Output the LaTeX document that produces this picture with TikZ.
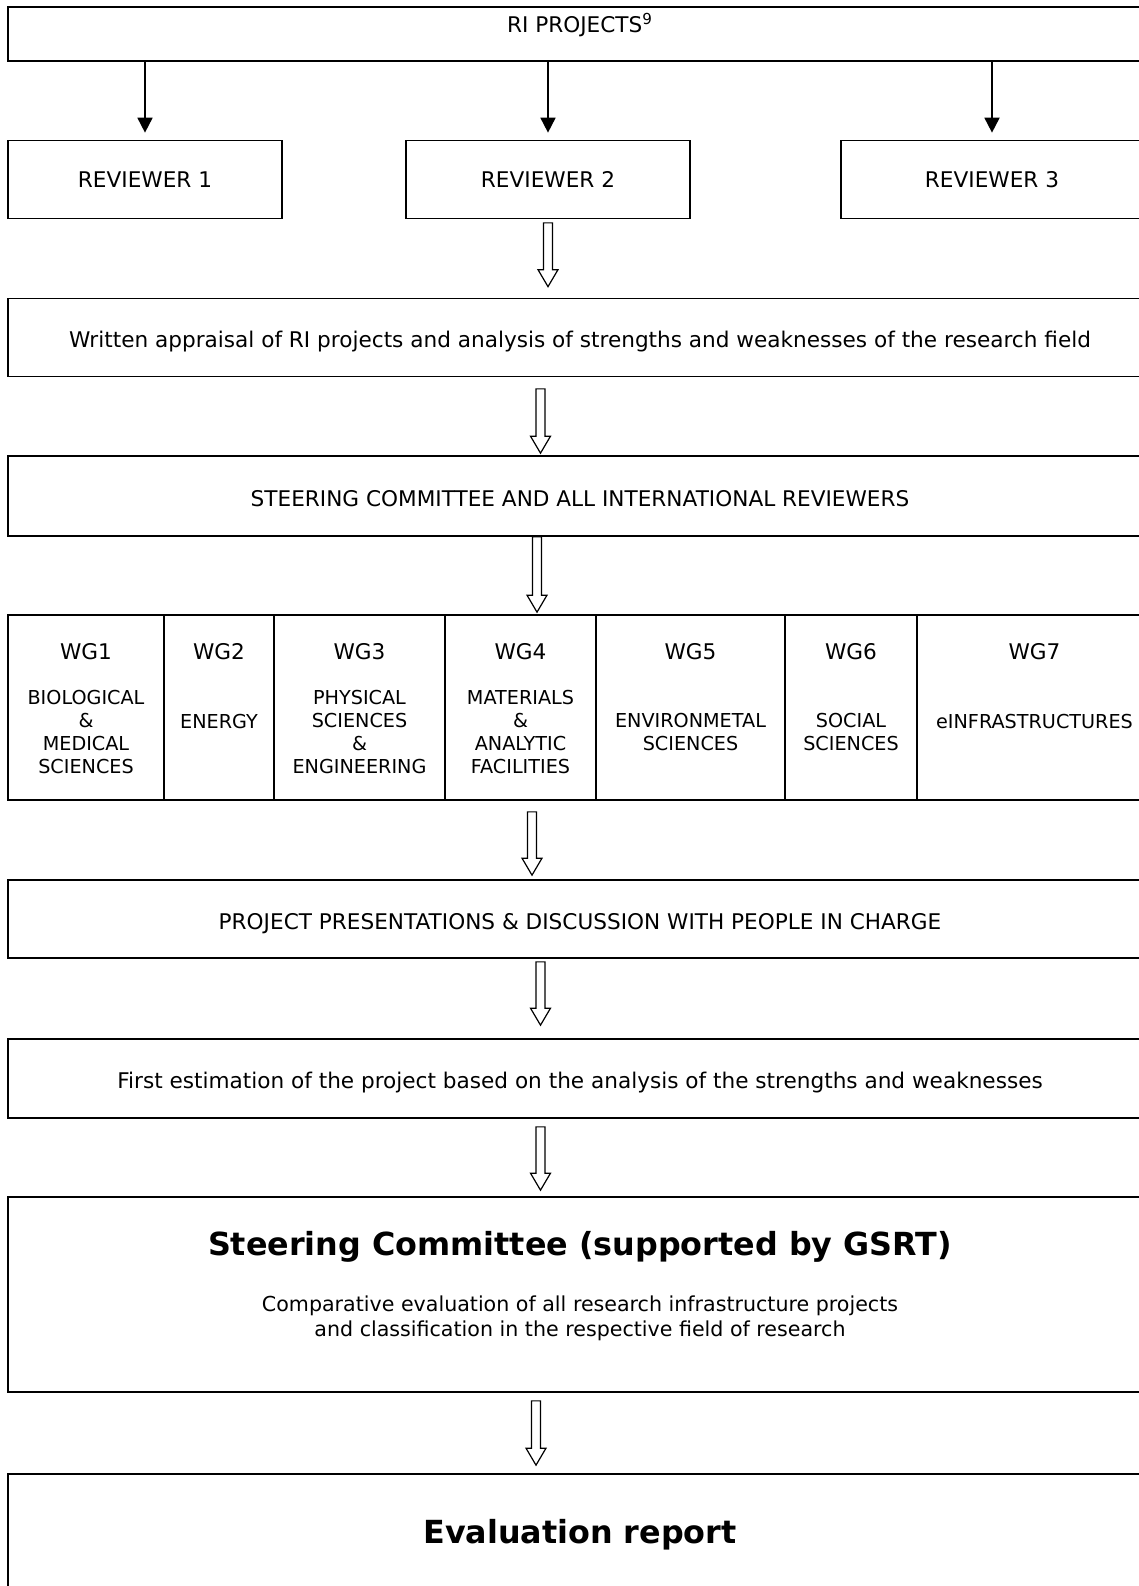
\documentclass[tikz,border=0pt]{standalone}
\usepackage{fontspec}
\setmainfont{DejaVu Sans}
\usetikzlibrary{positioning,calc,arrows.meta}

\newcommand\txt{\fontsize{10.8}{11.4}\selectfont}
\newcommand\wgtxt{\fontsize{9.6}{11.4}\selectfont}
\newcommand\sctxt{\fontsize{10.3}{12.7}\selectfont}
\newcommand\ttl{\fontsize{15.9}{19}\selectfont\bfseries}

\begin{document}
\begin{tikzpicture}[x=0.5pt,y=-0.5pt,font=\txt,
  box/.style={
    draw,
    line width=0.85pt,
    inner sep=0pt,
    align=center,
    minimum height=39pt
  },
  wide/.style={box, minimum width=572pt, text height=10pt, text depth=0pt},
  arr/.style={line width=0.9pt, -{Triangle[width=7.5pt,length=7.5pt]}},
  hollow/.style={line width=0.6pt,
    to path={let \p1=(\tikztostart), \p2=(\tikztotarget) in
      (\x1-2.25pt,\y1) -- (\x1-2.25pt,\y2+8.5pt) -- (\x1-5pt,\y2+8.5pt) -- (\x1,\y2)
      -- (\x1+5pt,\y2+8.5pt) -- (\x1+2.25pt,\y2+8.5pt) -- (\x1+2.25pt,\y1) -- cycle}
  }]
  \useasboundingbox (0,0) rectangle (1139,1586);

  % projects and reviewers
  \node[wide, minimum height=27pt,
        label={[anchor=north, inner sep=0pt, yshift=-3.5pt]north:RI PROJECTS\textsuperscript{9}}]
        (ri) at (580,34) {};
  \node[box, minimum width=137pt] (r1) at (145,179.5) {REVIEWER 1};
  \node[box, minimum width=142pt] (r2) at (548,179.5) {REVIEWER 2};
  \node[box, minimum width=151pt] (r3) at (992,179.5) {REVIEWER 3};

  \draw[arr] (ri.south -| r1) -- ([yshift=3.5pt]r1.north);
  \draw[arr] (ri.south -| r2) -- ([yshift=3.5pt]r2.north);
  \draw[arr] (ri.south -| r3) -- ([yshift=3.5pt]r3.north);

  \node[wide] (appr) at (580,337.5)
    {Written appraisal of RI projects and analysis of strengths and weaknesses of the research field};
  \node[wide, minimum height=40pt] (steer) at (580,496)
    {STEERING COMMITTEE AND ALL INTERNATIONAL REVIEWERS};

  % working groups
  \foreach \i/\xa/\xb/\dy/\what in {
      1/8/164/732/{BIOLOGICAL\\\&\\MEDICAL\\SCIENCES},
      2/164/274/721/ENERGY,
      3/274/445/732/{PHYSICAL\\SCIENCES\\\&\\ENGINEERING},
      4/445/596/732/{MATERIALS\\\&\\ANALYTIC\\FACILITIES},
      5/596/785/732/{ENVIRONMETAL\\SCIENCES},
      6/785/917/732/{SOCIAL\\SCIENCES},
      7/917/1152/721/eINFRASTRUCTURES}
  {
    \node[box, minimum width={(\xb-\xa)*0.5pt}, minimum height=92.5pt]
      (wg\i) at ({(\xa+\xb)/2},707.5) {};
    \node (wgt\i) at ({(\xa+\xb)/2},652) {WG\i};
    \node[align=center, font=\wgtxt] (wgd\i) at ({(\xa+\xb)/2},\dy) {\what};
  }

  \node[wide] (proj) at (580,919)
    {PROJECT PRESENTATIONS \& DISCUSSION WITH PEOPLE IN CHARGE};
  \node[wide, minimum height=39.5pt] (first) at (580,1078.5)
    {First estimation of the project based on the analysis of the strengths and weaknesses};

  \node[wide, minimum height=97.5pt] (sc) at (580,1294.5) {};
  \node[font=\ttl] (sctitle) at (580,1247) {Steering Committee (supported by GSRT)};
  \node[align=center, font=\sctxt] (sctext) at (580,1318)
    {Comparative evaluation of all research infrastructure projects\\
     and classification in the respective field of research};

  \node[box, minimum width=572pt, minimum height=61pt, font=\ttl] (ev) at (580,1535) {Evaluation report};

  % hollow arrows
  \draw[hollow] ([yshift=-1.75pt]r2.south) to ([yshift=5.5pt]appr.north);
  \draw[hollow] ([xshift=-19.75pt,yshift=-5.75pt]appr.south) to ([yshift=1pt]steer.north);
  \draw[hollow] ([xshift=-21.5pt]steer.south) to ([yshift=1pt]wg4.north);
  \draw[hollow] ([xshift=5.75pt,yshift=-5.5pt]wg4.south) to ([yshift=2pt]proj.north);
  \draw[hollow] ([xshift=-19.75pt,yshift=-1.5pt]proj.south) to ([yshift=6.5pt]first.north);
  \draw[hollow] ([xshift=-19.75pt,yshift=-4pt]first.south) to ([yshift=3pt]sc.north);
  \draw[hollow] ([xshift=-22pt,yshift=-4pt]sc.south) to ([yshift=4pt]ev.north);
\end{tikzpicture}
\end{document}
